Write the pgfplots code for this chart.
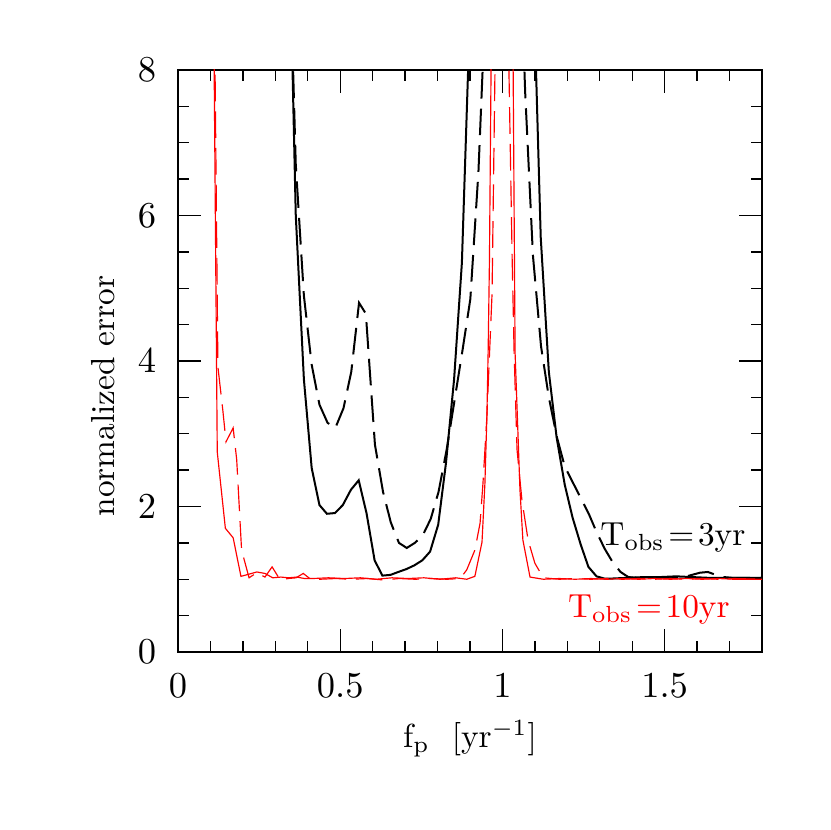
\documentclass[border=0pt]{standalone}
\usepackage{pgfplots}
\pgfplotsset{compat=1.18}
\begin{document}
\begin{tikzpicture}
\path[use as bounding box] (-53.4pt,-53.4pt) rectangle ++(249pt,249pt);
\begin{axis}[
  at={(0pt,0pt)}, anchor=south west,
  scale only axis, width=175.2pt, height=174.6pt,
  xmin=0, xmax=1.8, ymin=0, ymax=8,
  xtick={0,0.5,1,1.5}, ytick={0,2,4,6,8},
  minor xtick={0.1,0.2,0.3,0.4,0.6,0.7,0.8,0.9,1.1,1.2,1.3,1.4,1.6,1.7},
  minor ytick={0.5,1,1.5,2.5,3,3.5,4.5,5,5.5,6.5,7,7.5},
  tick align=inside,
  major tick length=6.9pt, minor tick length=3.3pt,
  every tick/.style={black, line width=0.4pt},
  axis line style={line width=0.5pt},
  tick label style={font=\fontsize{11}{13}\selectfont},
  xticklabel style={yshift=-3pt},
  yticklabel style={xshift=-3pt},
  xlabel={$\mathrm{f_p\ \ [yr^{-1}]}$},
  ylabel={normalized error},
  ylabel style={at={(ticklabel cs:0.44)}},
  clip=true,
]
% black solid
\addplot[black, line width=0.6pt] coordinates {
(0.339,10.8) (0.363,6.0) (0.388,3.75) (0.412,2.53) (0.436,2.02) (0.459,1.90) (0.484,1.91)
(0.508,2.02) (0.533,2.23) (0.557,2.36) (0.581,1.91) (0.606,1.26) (0.630,1.05) (0.655,1.06)
(0.679,1.10) (0.704,1.14) (0.728,1.19) (0.753,1.26) (0.777,1.38) (0.802,1.75) (0.826,2.6)
(0.851,3.75) (0.875,5.35) (0.900,8.8)
};
\addplot[black, line width=0.6pt] coordinates {
(1.094,9.5) (1.118,5.7) (1.143,3.85) (1.167,2.95) (1.192,2.3) (1.216,1.85) (1.241,1.48)
(1.265,1.17) (1.290,1.04) (1.314,1.01) (1.339,1.01) (1.388,1.02) (1.437,1.03) (1.486,1.03)
(1.535,1.04) (1.584,1.03) (1.633,1.02) (1.682,1.02) (1.731,1.02) (1.80,1.02)
};
% black dashed
\addplot[black, line width=0.6pt, dash pattern=on 8pt off 3pt] coordinates {
(0.339,10.5) (0.363,6.7) (0.388,4.9) (0.412,3.95) (0.436,3.4) (0.461,3.15) (0.485,3.08)
(0.510,3.35) (0.534,3.85) (0.558,4.8) (0.579,4.65) (0.607,2.85) (0.632,2.2) (0.656,1.78)
(0.681,1.5) (0.705,1.43) (0.730,1.5) (0.754,1.6) (0.779,1.83) (0.803,2.2) (0.828,2.78)
(0.852,3.45) (0.877,4.15) (0.901,4.85) (0.926,6.6) (0.950,9.2)
};
\addplot[black, line width=0.6pt, dash pattern=on 8pt off 3pt] coordinates {
(1.045,11) (1.070,7.7) (1.094,5.45) (1.119,4.2) (1.143,3.5) (1.168,2.95) (1.192,2.55)
(1.217,2.33) (1.241,2.12) (1.266,1.9) (1.290,1.65) (1.315,1.42) (1.339,1.24) (1.364,1.1)
(1.388,1.03) (1.413,1.02) (1.462,1.02) (1.511,1.03) (1.560,1.03) (1.584,1.06) (1.609,1.09)
(1.633,1.10) (1.658,1.06) (1.682,1.03) (1.707,1.02) (1.80,1.02)
};
% red solid
\addplot[red, line width=0.35pt] coordinates {
(0.097,16) (0.121,2.75) (0.146,1.70) (0.170,1.57) (0.194,1.04) (0.219,1.07) (0.243,1.10)
(0.268,1.08) (0.292,1.02) (0.317,1.03) (0.341,1.02) (0.366,1.03) (0.390,1.01) (0.415,1.01)
(0.464,1.02) (0.513,1.01) (0.562,1.02) (0.611,1.00) (0.660,1.02) (0.709,1.01) (0.758,1.02)
(0.807,1.00) (0.856,1.02) (0.890,1.00) (0.915,1.04) (0.937,1.51) (0.946,2.32) (0.952,3.23)
(0.956,4.15) (0.960,5.4) (0.966,8.6)
};
\addplot[red, line width=0.35pt] coordinates {
(1.030,9) (1.033,8) (1.039,4.11) (1.054,2.23) (1.063,1.54) (1.085,1.03) (1.126,1.00)
(1.175,1.01) (1.224,1.00) (1.273,1.01) (1.322,1.00) (1.371,1.01) (1.420,1.00) (1.469,1.01)
(1.518,1.00) (1.567,1.01) (1.616,1.00) (1.665,1.01) (1.714,1.00) (1.80,1.00)
};
% red dashed
\addplot[red, line width=0.35pt, dash pattern=on 8pt off 3pt] coordinates {
(0.097,16) (0.123,3.92) (0.138,3.33) (0.148,2.89) (0.170,3.08) (0.181,2.64) (0.196,1.40)
(0.207,1.22) (0.219,1.02) (0.243,1.09) (0.268,1.03) (0.290,1.17) (0.315,0.99) (0.339,1.01)
(0.364,1.02) (0.386,1.08) (0.412,0.99) (0.437,1.00) (0.486,1.01) (0.535,1.00) (0.584,1.01)
(0.633,0.99) (0.682,1.01) (0.731,1.00) (0.780,1.01) (0.829,1.00) (0.870,1.01) (0.890,1.13)
(0.915,1.40) (0.931,1.77) (0.940,2.32) (0.952,3.23) (0.968,4.93) (0.977,8) (0.980,9)
};
\addplot[red, line width=0.35pt, dash pattern=on 8pt off 3pt] coordinates {
(1.015,9) (1.020,8) (1.030,5.39) (1.036,4.11) (1.045,2.78) (1.060,2.09) (1.079,1.54)
(1.100,1.22) (1.126,1.02) (1.175,1.00) (1.224,1.01) (1.273,1.00) (1.322,1.01) (1.371,1.00)
(1.420,1.01) (1.469,1.00) (1.518,1.01) (1.567,1.00) (1.616,1.01) (1.665,1.00) (1.714,1.01)
(1.80,1.00)
};
\node[anchor=base west, inner sep=0pt, black] at (axis cs:1.30,1.47) {$\mathrm{T_{obs}\!=\!3yr}$};
\node[anchor=base west, inner sep=0pt, red] at (axis cs:1.20,0.48) {$\mathrm{T_{obs}\!=\!10yr}$};
\end{axis}
\end{tikzpicture}
\end{document}
